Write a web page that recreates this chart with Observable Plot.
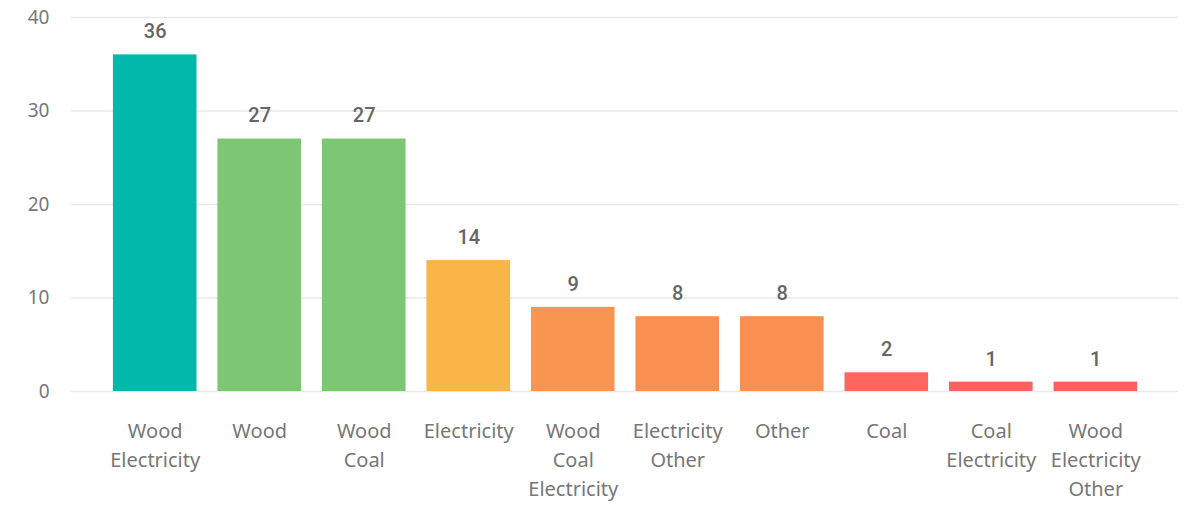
<!DOCTYPE html>
<html>
<head>
<meta charset="utf-8">
<script src="https://cdn.jsdelivr.net/npm/d3@7"></script>
<script src="https://cdn.jsdelivr.net/npm/@observablehq/plot@0.6"></script>
<style>
  html, body { margin: 0; padding: 0; background: #fff; }
  #chart svg { display: block; }
</style>
</head>
<body>
<div id="chart"></div>
<script>
const categories = [
  "Wood\nElectricity",
  "Wood",
  "Wood\nCoal",
  "Electricity",
  "Wood\nCoal\nElectricity",
  "Electricity\nOther",
  "Other",
  "Coal",
  "Coal\nElectricity",
  "Wood\nElectricity\nOther"
];
const values = [36, 27, 27, 14, 9, 8, 8, 2, 1, 1];
const yTicks = [0, 10, 20, 30, 40];

const data = categories.map((c, i) => ({category: c, value: values[i]}));

const barColors = ["#01B8AA", "#7DC673", "#7DC673", "#F8B548", "#F89651", "#F98F51", "#F98F51", "#FE6760", "#FD605E", "#FD605E"];

const chart = Plot.plot({
  width: 1198,
  height: 506,
  marginLeft: 71,
  marginRight: 20,
  marginTop: 17,
  marginBottom: 115,
  style: {background: "#fff", fontFamily: "'Noto Sans', sans-serif"},
  x: {domain: categories, paddingInner: 0.2, paddingOuter: 0.2, insetLeft: 21, insetRight: 20, round: false, label: null},
  y: {domain: [0, 40], label: null},
  color: {domain: categories, range: barColors},
  marks: [
    Plot.ruleY(yTicks, {stroke: "#e9e9e9", strokeWidth: 1.5}),
    Plot.barY(data, {x: "category", y: "value", fill: "category"}),
    Plot.text(data, {
      x: "category", y: "value", text: d => String(d.value),
      dy: -23, fill: "#666", fontSize: 20, fontWeight: 500,
      fontFamily: "Roboto, 'DejaVu Sans Condensed', sans-serif"
    }),
    Plot.axisY({ticks: yTicks, tickSize: 0, tickPadding: 22, fontSize: 19, fill: "#777", label: null}),
    Plot.axisX({tickSize: 0, tickPadding: 26, fontSize: 20, lineHeight: 1.45, fill: "#777", label: null})
  ]
});
document.getElementById("chart").appendChild(chart);
</script>
</body>
</html>
